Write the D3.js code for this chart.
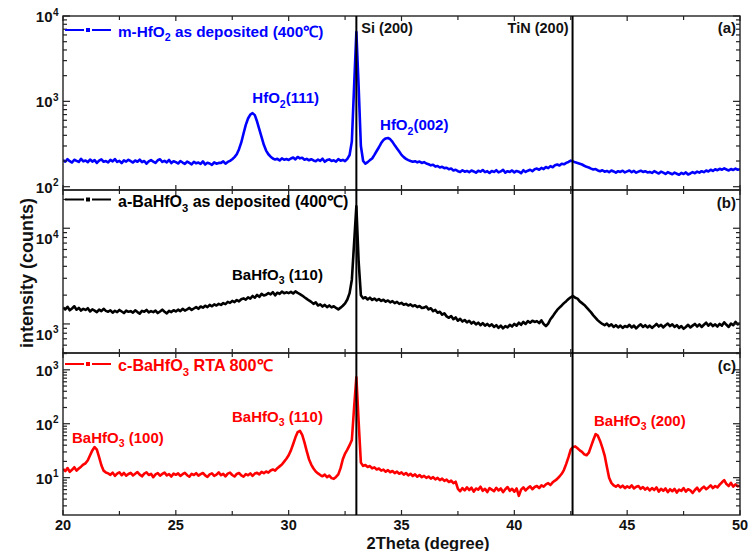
<!DOCTYPE html>
<html><head><meta charset="utf-8">
<script src="https://cdn.jsdelivr.net/npm/d3@7"></script>
<style>
body{margin:0;background:#fff;}
text{font-family:"Liberation Sans",Arial,Helvetica,sans-serif;font-weight:bold;}
</style>
</head><body>
<svg id="chart" width="749" height="551"></svg>
<script>
// ---------------- DATA ----------------
const thetaStart = 20, thetaStep = 0.1; // scan grid (degrees)
const xTicks = [20, 25, 30, 35, 40, 45, 50];
const xMinorTicks = [22.5, 27.5, 32.5, 37.5, 42.5, 47.5];

const hfo2Values = [
205,196,210,199,192,207,201,195,212,198,
203,194,208,197,205,190,202,209,196,200,
193,206,198,211,195,201,189,204,197,207,
199,192,203,196,208,194,200,186,198,205,
197,190,204,210,195,201,193,206,189,199,
194,187,200,192,185,197,190,183,196,188,
192,185,198,182,191,187,180,193,186,190,
190,198,186,195,201,210,222,240,275,330,
420,530,630,700,728,690,580,470,380,310,
265,240,225,214,208,212,203,215,207,211,
206,214,220,209,223,215,218,207,212,204,
210,203,199,208,201,213,196,205,209,200,
204,197,210,202,206,199,212,235,340,1500,
6500,1500,300,200,186,194,205,214,236,262,
290,325,352,368,372,360,335,305,280,258,
236,222,212,205,200,196,199,193,197,190,
194,187,183,178,181,172,175,168,171,165,
167,160,163,155,158,152,149,156,150,153,
148,155,151,146,154,150,157,148,152,145,
153,149,156,147,151,158,146,152,149,155,
147,153,150,144,156,149,154,158,152,160,
163,158,166,161,170,165,174,169,178,182,
177,186,183,190,195,202,198,193,190,186,
182,176,171,168,163,159,161,155,152,156,
150,153,148,155,151,146,152,149,154,147,
151,155,148,153,146,150,154,149,152,147,
149,145,152,147,143,150,146,141,148,144,
140,146,142,138,145,141,147,139,143,148,
144,150,146,152,148,155,151,158,153,160,
156,162,158,164,159,155,161,157,163,158,
160];

const bahfo3AsDepValues = [
1480,1420,1510,1390,1450,1530,1410,1470,1380,1440,
1400,1460,1350,1420,1380,1330,1410,1360,1440,1370,
1340,1390,1310,1370,1330,1400,1350,1300,1380,1340,
1360,1310,1390,1330,1280,1370,1340,1400,1320,1360,
1330,1380,1300,1350,1410,1340,1290,1370,1330,1390,
1350,1410,1360,1440,1380,1420,1470,1400,1450,1500,
1440,1520,1480,1550,1500,1580,1530,1600,1560,1620,
1580,1650,1610,1700,1660,1740,1690,1780,1720,1810,
1850,1790,1900,1840,1960,1880,2010,1920,2060,1980,
2020,2100,2040,2150,1990,2120,2060,2180,2090,2140,
2100,2160,2080,2190,2110,2050,1980,1900,1830,1760,
1700,1620,1680,1560,1600,1520,1580,1500,1560,1490,
1530,1470,1420,1480,1550,1640,1800,2100,2900,7000,
17000,4500,2000,1850,1900,1800,1880,1780,1840,1760,
1820,1740,1790,1710,1760,1680,1730,1650,1700,1620,
1660,1590,1620,1560,1600,1530,1570,1500,1540,1470,
1480,1520,1420,1460,1360,1400,1310,1340,1250,1290,
1200,1160,1210,1120,1170,1080,1130,1060,1100,1040,
1080,1010,1050,990,1030,970,1020,960,1000,950,
990,930,970,910,960,900,950,920,980,940,
1000,960,1030,980,1050,1000,1070,1030,1080,1050,
1070,1020,1090,1000,950,1010,1120,1200,1300,1400,
1480,1560,1650,1730,1820,1900,1960,1880,1840,1720,
1650,1580,1490,1400,1320,1230,1160,1090,1040,1000,
970,1010,950,990,930,970,920,960,910,950,
930,980,920,960,900,950,990,930,970,920,
960,910,950,1000,940,980,920,970,1010,950,
990,930,970,910,950,890,930,980,920,960,
1000,940,990,930,980,1030,960,1010,950,990,
940,1000,960,1040,980,930,1010,970,1050,990,
1020];

const bahfo3RtaValues = [
14.5,13.2,15.1,12.8,14.0,15.6,13.5,14.8,16.0,17.5,
18.5,21,26,32,37,33,24,17,13.5,12.5,
12.0,11.3,12.4,10.8,11.9,12.6,11.1,12.2,10.9,11.7,
12.3,11.0,11.8,12.7,11.4,10.6,11.9,12.5,11.2,11.8,
10.2,11.5,12.1,10.9,11.7,12.4,11.0,11.6,10.5,11.9,
11.3,12.0,10.8,11.6,12.3,11.1,10.4,11.8,11.2,12.1,
10.9,11.6,12.2,11.0,10.3,11.5,12.0,10.8,11.4,12.5,
11.1,11.8,10.6,11.9,12.4,11.2,10.5,11.7,12.2,11.0,
10.4,11.6,11.1,12.0,10.8,11.9,12.3,11.5,12.8,12.1,
13.0,12.4,13.6,14.2,13.5,15.0,16.2,17.5,19.8,22.5,
26,32,42,56,70,74,62,45,31,22,
17.5,14.8,13.0,12.0,11.2,10.6,11.4,10.2,10.9,9.8,
9.5,10.3,11.5,15,22,28,33,40,50,200,
730,110,19,16.5,17.2,15.8,16.4,14.9,15.5,14.2,
14.8,13.5,14.1,12.9,13.8,12.6,13.3,12.1,12.9,11.8,
12.5,11.4,12.2,11.0,11.8,10.7,11.5,10.4,11.2,10.2,
10.8,9.9,10.5,9.6,10.2,9.3,9.9,9.0,9.6,8.7,
9.2,8.3,8.8,7.9,8.4,6.2,5.6,6.4,5.8,6.6,
5.9,6.5,5.5,6.3,6.0,6.8,5.7,6.2,5.4,6.4,
6.0,5.6,6.5,5.8,6.3,5.4,6.1,6.7,5.7,6.2,
5.5,6.3,4.6,6.0,6.6,5.8,6.4,6.9,6.1,6.7,
7.0,6.4,7.2,6.8,7.5,7.9,7.3,8.2,8.8,9.5,
10.5,11.8,14,18,24,33,37,38,35,32,
30,27,26,29,38,50,64,60,48,36,
26,16,10,8.0,7.2,6.8,7.3,6.6,7.1,6.4,
6.9,6.5,7.2,6.3,6.8,7.0,6.2,6.7,6.0,6.5,
5.8,6.4,5.9,6.6,5.5,6.2,5.7,6.3,5.4,6.1,
5.6,6.2,5.3,6.0,5.7,6.4,5.5,6.1,5.8,5.2,
5.9,6.5,5.6,6.3,6.8,6.1,6.6,7.2,6.4,7.0,
6.6,7.4,8.2,9.0,7.6,7.0,8.0,6.8,7.5,6.9,
7.1];

const seriesNames = [
  {pre:"m-HfO", sub:"2", post:" as deposited (400\u2103)"},
  {pre:"a-BaHfO", sub:"3", post:" as deposited (400\u2103)"},
  {pre:"c-BaHfO", sub:"3", post:" RTA 800\u2103"}
];
const panelTags = ["(a)", "(b)", "(c)"];
const yDomains = [[91.5, 10000], [497, 25100], [2.03, 2050]];
const yDecades = [[100, 1000, 10000], [1000, 10000], [10, 100, 1000]];

const refLines = [{label:"Si (200)", pos:33.0}, {label:"TiN (200)", pos:42.58}];

// peak annotations: panel, 2theta, intensity
const peakLabels = [
  {panel:0, pre:"HfO", sub:"2", post:"(111)", x:28.39, y:955},
  {panel:0, pre:"HfO", sub:"2", post:"(002)", x:34.05, y:461},
  {panel:1, pre:"BaHfO", sub:"3", post:" (110)", x:27.49, y:2880},
  {panel:2, pre:"BaHfO", sub:"3", post:" (100)", x:20.40, y:44},
  {panel:2, pre:"BaHfO", sub:"3", post:" (110)", x:27.49, y:110},
  {panel:2, pre:"BaHfO", sub:"3", post:" (200)", x:43.53, y:91}
];

// ---------------- LAYOUT ----------------
const colors = ["#0000ff", "#000000", "#ff0000"];
const seriesList = [hfo2Values, bahfo3AsDepValues, bahfo3RtaValues];
const X0 = 63, X1 = 740;
const panelBox = [{top:16, bottom:190}, {top:190, bottom:353}, {top:353, bottom:515}];
const legendY = [30, 199.5, 364];
const legendTextDy = [6.5, 7.5, 7];
const legendFont = [15.3, 16, 16.2];
const tagY = [33, 208, 371];
const decadeLabelDy = [6, 16, 6];

const svg = d3.select("#chart");
const x = d3.scaleLinear().domain([20, 50]).range([X0, X1]);

const defs = svg.append("defs");

function addSubText(g, item, size) {
  const t = g.append("text").attr("font-size", size);
  t.append("tspan").text(item.pre);
  t.append("tspan").attr("font-size", size * 0.7).attr("dy", size * 0.3).text(item.sub);
  t.append("tspan").attr("dy", -size * 0.3).text(item.post);
  return t;
}

panelBox.forEach((pb, i) => {
  const y = d3.scaleLog().domain(yDomains[i]).range([pb.bottom, pb.top]);
  const color = colors[i];

  defs.append("clipPath").attr("id", "clip" + i)
    .append("rect").attr("x", X0).attr("y", pb.top).attr("width", X1 - X0).attr("height", pb.bottom - pb.top);

  const data = seriesList[i].map((v, k) => [thetaStart + k * thetaStep, v]);
  const line = d3.line().x(d => x(d[0])).y(d => y(d[1]));

  svg.append("path").datum(data)
    .attr("clip-path", `url(#clip${i})`)
    .attr("d", line)
    .attr("fill", "none")
    .attr("stroke", color)
    .attr("stroke-width", 2.6)
    .attr("stroke-linejoin", "round");

  // border
  svg.append("rect").attr("x", X0).attr("y", pb.top).attr("width", X1 - X0).attr("height", pb.bottom - pb.top)
    .attr("fill", "none").attr("stroke", "#222").attr("stroke-width", 1.4);

  // x ticks (inward, top and bottom)
  const g = svg.append("g").attr("stroke", "#222").attr("stroke-width", 1.2);
  xTicks.concat(xMinorTicks).forEach(t => {
    const len = xTicks.includes(t) ? 5 : 4;
    g.append("line").attr("x1", x(t)).attr("x2", x(t)).attr("y1", pb.bottom).attr("y2", pb.bottom - len);
    g.append("line").attr("x1", x(t)).attr("x2", x(t)).attr("y1", pb.top).attr("y2", pb.top + len);
  });

  // y log ticks (inward, left and right)
  const [lo, hi] = yDomains[i];
  y.ticks().filter(t => t >= lo && t <= hi).forEach(t => {
    const major = yDecades[i].includes(t);
    const len = major ? 7 : 4;
    g.append("line").attr("x1", X0).attr("x2", X0 + len).attr("y1", y(t)).attr("y2", y(t));
    g.append("line").attr("x1", X1).attr("x2", X1 - len).attr("y1", y(t)).attr("y2", y(t));
  });

  // decade labels 10^n
  yDecades[i].forEach(d => {
    const yy = y(d) + decadeLabelDy[i];
    svg.append("text").attr("x", 52.5).attr("y", yy).attr("text-anchor", "end")
      .attr("font-size", 15).attr("fill", "#111").text("10");
    svg.append("text").attr("x", 53).attr("y", yy - 6.5).attr("font-size", 10).attr("fill", "#111")
      .text(String(Math.round(Math.log10(d))));
  });

  // legend
  const ly = legendY[i];
  svg.append("line").attr("x1", 65).attr("x2", 84).attr("y1", ly).attr("y2", ly).attr("stroke", color).attr("stroke-width", 2);
  svg.append("line").attr("x1", 92).attr("x2", 111).attr("y1", ly).attr("y2", ly).attr("stroke", color).attr("stroke-width", 2);
  svg.append("rect").attr("x", 86).attr("y", ly - 2).attr("width", 4).attr("height", 4).attr("fill", color);
  addSubText(svg, seriesNames[i], legendFont[i]).attr("x", 118).attr("y", ly + legendTextDy[i]).attr("fill", color);

  // panel tag
  svg.append("text").attr("x", 736).attr("y", tagY[i]).attr("text-anchor", "end")
    .attr("font-size", 15).attr("fill", "#111").text(panelTags[i]);

  // peak labels
  peakLabels.filter(p => p.panel === i).forEach(p => {
    addSubText(svg, p, 15).attr("x", x(p.x)).attr("y", y(p.y)).attr("fill", color);
  });
});

// x tick labels
xTicks.forEach(t => {
  svg.append("text").attr("x", x(t)).attr("y", 530).attr("text-anchor", "middle")
    .attr("font-size", 14.5).attr("fill", "#111").text(t);
});

// reference lines
refLines.forEach(r => {
  svg.append("line").attr("x1", x(r.pos)).attr("x2", x(r.pos)).attr("y1", 16).attr("y2", 515)
    .attr("stroke", "#000").attr("stroke-width", 2);
});
svg.append("text").attr("x", x(refLines[0].pos) + 5).attr("y", 33).attr("font-size", 14.5).attr("fill", "#111").text(refLines[0].label);
svg.append("text").attr("x", x(refLines[1].pos) - 4).attr("y", 33).attr("text-anchor", "end").attr("font-size", 14.5).attr("fill", "#111").text(refLines[1].label);

// axis titles
svg.append("text").attr("x", 428).attr("y", 548.5).attr("text-anchor", "middle")
  .attr("font-size", 16.5).attr("fill", "#111").text("2Theta (degree)");
svg.append("text").attr("transform", "translate(33,273) rotate(-90)").attr("text-anchor", "middle")
  .attr("font-size", 18).attr("fill", "#111").text("intensity (counts)");
</script>
</body></html>
